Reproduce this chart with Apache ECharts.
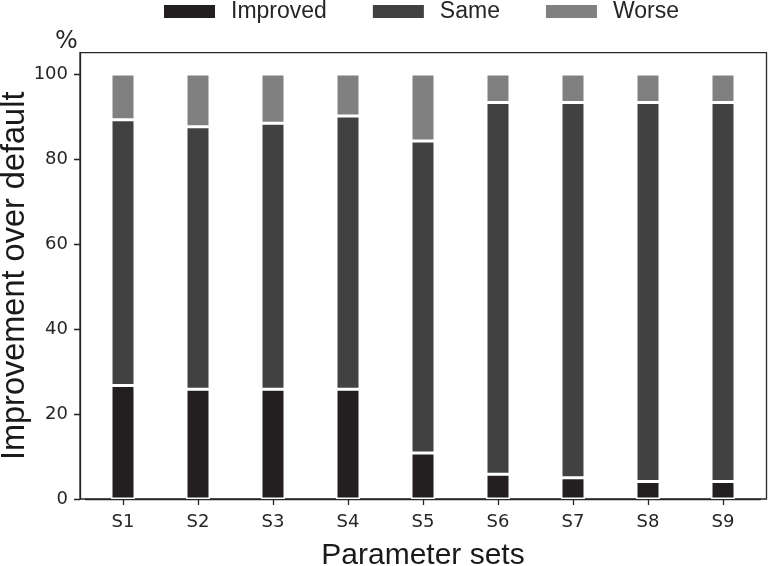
<!DOCTYPE html>
<html>
<head>
<meta charset="utf-8">
<script src="https://cdn.jsdelivr.net/npm/echarts@6/dist/echarts.min.js"></script>
<style>html,body{margin:0;padding:0;background:#fff}#c{width:768px;height:566px}</style>
</head>
<body>
<div id="c"></div>
<script>
const categories = ['S1','S2','S3','S4','S5','S6','S7','S8','S9'];
const improved = [26.7, 25.8, 25.8, 25.8, 10.8, 5.8, 5.0, 4.1, 4.1];
const same = [62.5, 61.8, 62.6, 64.3, 73.4, 87.5, 88.3, 89.2, 89.2];
const worse = [10.8, 12.4, 11.6, 9.9, 15.8, 6.7, 6.7, 6.7, 6.7];
const yTicks = [0, 20, 40, 60, 80, 100];

const chart = echarts.init(document.getElementById('c'), null, {renderer: 'canvas'});
const axisColor = '#262626';
const tickFont = {fontFamily: 'DejaVu Sans', fontSize: 18, color: axisColor};
const barStyle = (c) => ({color: c, borderColor: '#ffffff', borderWidth: 1.5});

chart.setOption({
  animation: false,
  legend: {
    top: 0, left: 162, padding: 0,
    itemWidth: 53, itemHeight: 15, itemGap: 44,
    icon: 'rect',
    textStyle: {fontFamily: 'Liberation Sans', fontSize: 23, color: axisColor, padding: [0, 0, 0, 10]},
    data: ['Improved', 'Same', 'Worse']
  },
  title: {
    text: '%', left: 50, top: 25,
    textStyle: {fontFamily: 'DejaVu Sans', fontSize: 24, fontWeight: 'normal', color: axisColor}
  },
  grid: [
    {left: 85.5, right: 7.5, top: 52.7, bottom: 67, outerBoundsMode: 'none', containLabel: false},
    {left: 80, right: 1.5, top: 52.7, bottom: 67, outerBoundsMode: 'none', containLabel: false,
     show: true, borderColor: axisColor, borderWidth: 1.3, backgroundColor: 'transparent'},
    {left: 74, width: 6, top: 52.7, bottom: 67, outerBoundsMode: 'none', containLabel: false}
  ],
  xAxis: [{
    type: 'category', data: categories, gridIndex: 0,
    axisLine: {show: true, lineStyle: {color: axisColor, width: 1.3}},
    axisTick: {show: true, alignWithLabel: true, inside: false, length: 6, lineStyle: {color: axisColor, width: 1.3}},
    axisLabel: Object.assign({margin: 14}, tickFont),
    name: 'Parameter sets', nameLocation: 'middle', nameGap: 42, nameMoveOverlap: false,
    nameTextStyle: {fontFamily: 'Liberation Sans', fontSize: 30, color: '#1a1a1a'}
  }, {
    type: 'value', gridIndex: 1, show: false, min: 0, max: 1
  }, {
    type: 'value', gridIndex: 2, show: false, min: 0, max: 1
  }],
  yAxis: [{
    type: 'value', gridIndex: 0, min: 0, max: 105, show: false
  }, {
    type: 'value', gridIndex: 1, min: 0, max: 105, interval: 20,
    axisLine: {show: true, lineStyle: {color: axisColor, width: 1.3}},
    splitLine: {show: false},
    axisTick: {show: true, inside: false, length: 6, lineStyle: {color: axisColor, width: 1.3}},
    axisLabel: Object.assign({margin: 12, showMaxLabel: false,
      formatter: (v) => (yTicks.indexOf(v) >= 0 ? String(v) : '')}, tickFont),
    name: 'Improvement over default', nameLocation: 'middle', nameGap: 48, nameMoveOverlap: false,
    nameTextStyle: {fontFamily: 'Liberation Sans', fontSize: 32.5, color: '#1a1a1a'}
  }, {
    type: 'value', gridIndex: 2, min: 0, max: 105, interval: 20,
    axisLine: {show: false}, axisTick: {show: false}, axisLabel: {show: false},
    splitLine: {show: true, showMinLine: true, showMaxLine: false, lineStyle: {color: axisColor, width: 1.3}}
  }],
  series: [
    {name: 'Improved', type: 'bar', stack: 'a', data: improved, barWidth: 24, itemStyle: barStyle('#231f20')},
    {name: 'Same', type: 'bar', stack: 'a', data: same, barWidth: 24, itemStyle: barStyle('#414141')},
    {name: 'Worse', type: 'bar', stack: 'a', data: worse, barWidth: 24, itemStyle: barStyle('#808080')}
  ]
});
</script>
</body>
</html>
